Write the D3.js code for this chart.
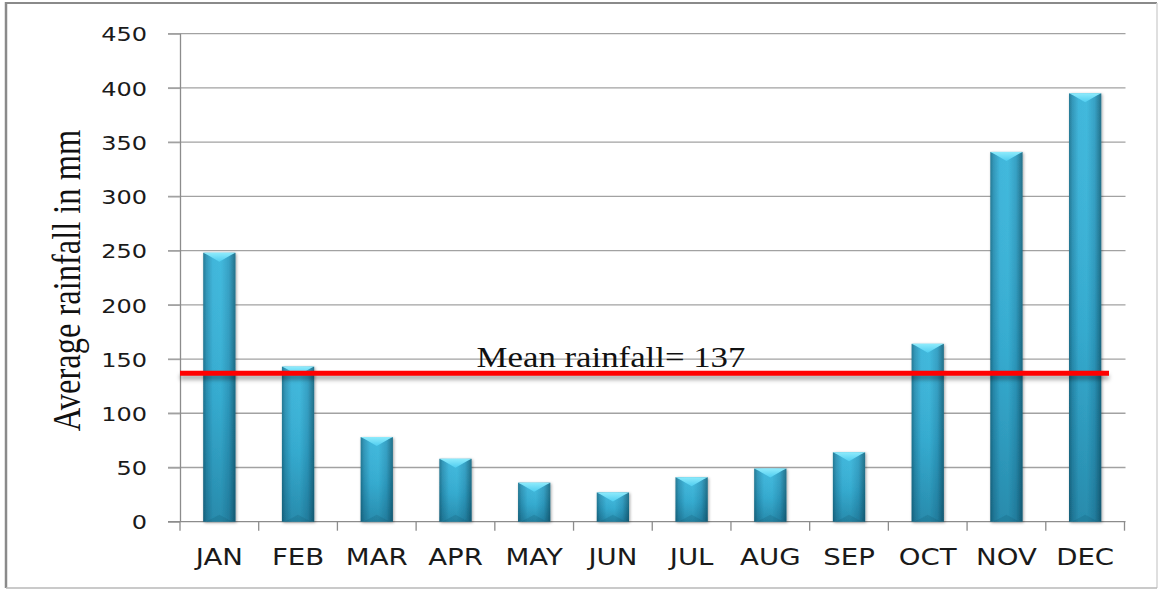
<!DOCTYPE html>
<html>
<head>
<meta charset="utf-8">
<script src="https://cdn.jsdelivr.net/npm/d3@7/dist/d3.min.js"></script>
<style>
  html, body { margin: 0; padding: 0; background: #ffffff; }
  svg { display: block; }
</style>
</head>
<body>
<svg id="chart" width="1158" height="589"></svg>
<script>
// Monthly average rainfall (mm)
const months = ["JAN", "FEB", "MAR", "APR", "MAY", "JUN", "JUL", "AUG", "SEP", "OCT", "NOV", "DEC"];
const rainfall = [248, 143, 78, 58, 36, 27, 41, 49, 64, 164, 341, 395];
const yTicks = [0, 50, 100, 150, 200, 250, 300, 350, 400, 450];
const yTitle = "Average rainfall in mm";
const meanPrefix = "Mean rainfall= ";

// Mean of the twelve months, rounded as printed on the label
const meanRainfall = Math.round(d3.mean(rainfall));

const svg = d3.select("#chart");
const plot = { left: 180, right: 1124.5, top: 33.7, bottom: 521.7 };
const textStretch = 1.2;

const x = d3.scaleBand()
  .domain(months)
  .range([plot.left, plot.right])
  .paddingInner(0.59)
  .paddingOuter(0.295);

const y = d3.scaleLinear()
  .domain([0, 450])
  .range([plot.bottom, plot.top]);

// ---- defs: gradients and shadows ----
const defs = svg.append("defs");

const body = defs.append("linearGradient").attr("id", "barBody")
  .attr("x1", "0").attr("x2", "1").attr("y1", "0").attr("y2", "0");
[["0%", "#1d7490"], ["10%", "#2b93b6"], ["30%", "#39b3d9"], ["55%", "#3ab6db"],
 ["80%", "#2f9dc2"], ["92%", "#237f9d"], ["100%", "#1a6a84"]]
  .forEach(([o, c]) => body.append("stop").attr("offset", o).attr("stop-color", c));

const shade = defs.append("linearGradient").attr("id", "barShade")
  .attr("x1", "0").attr("x2", "0").attr("y1", "0").attr("y2", "1");
shade.append("stop").attr("offset", "0%").attr("stop-color", "#ffffff").attr("stop-opacity", 0.04);
shade.append("stop").attr("offset", "55%").attr("stop-color", "#003048").attr("stop-opacity", 0.08);
shade.append("stop").attr("offset", "100%").attr("stop-color", "#002a40").attr("stop-opacity", 0.3);

const cap = defs.append("linearGradient").attr("id", "barCap")
  .attr("x1", "0").attr("x2", "0").attr("y1", "0").attr("y2", "1");
cap.append("stop").attr("offset", "0%").attr("stop-color", "#8eebfc");
cap.append("stop").attr("offset", "100%").attr("stop-color", "#4fcdf0");

const barShadow = defs.append("filter").attr("id", "barShadow")
  .attr("x", "-30%").attr("y", "-10%").attr("width", "160%").attr("height", "120%");
barShadow.append("feDropShadow").attr("dx", 1).attr("dy", 1)
  .attr("stdDeviation", 1.8).attr("flood-color", "#000").attr("flood-opacity", 0.35);

// soft blur for the mean line's shadow (user space, since a line has no height)
const blur = defs.append("filter").attr("id", "softBlur")
  .attr("filterUnits", "userSpaceOnUse")
  .attr("x", 0).attr("y", 0).attr("width", 1158).attr("height", 589);
blur.append("feGaussianBlur").attr("stdDeviation", 2.2);

// ---- chart frame ----
const frame = svg.append("g").attr("class", "frame");
frame.append("line").attr("x1", 5).attr("x2", 1157).attr("y1", 3).attr("y2", 3)
  .attr("stroke", "#8a8a8a").attr("stroke-width", 2);
frame.append("line").attr("x1", 6).attr("x2", 6).attr("y1", 2).attr("y2", 588)
  .attr("stroke", "#8a8a8a").attr("stroke-width", 2.5);
frame.append("line").attr("x1", 1157).attr("x2", 1157).attr("y1", 3).attr("y2", 588)
  .attr("stroke", "#d4d4d4").attr("stroke-width", 1.5);
frame.append("line").attr("x1", 6).attr("x2", 1157).attr("y1", 588).attr("y2", 588)
  .attr("stroke", "#b8b8b8").attr("stroke-width", 1.5);

// ---- gridlines ----
svg.append("g").attr("class", "grid")
  .selectAll("line")
  .data(yTicks.filter(d => d > 0))
  .join("line")
  .attr("x1", plot.left - 12).attr("x2", plot.right + 1)
  .attr("y1", d => y(d)).attr("y2", d => y(d))
  .attr("stroke", "#a2a2a2").attr("stroke-width", 1.3);

// ---- y axis ----
const yAxis = svg.append("g")
  .attr("transform", `translate(${plot.left},0)`)
  .call(d3.axisLeft(y).tickValues(yTicks).tickSize(12).tickSizeOuter(0));
yAxis.select(".domain").attr("stroke", "#8c8c8c").attr("stroke-width", 1.3)
  .attr("d", `M0.5,${y(450)}V${y(0)}`);
yAxis.selectAll(".tick line").attr("stroke", "#a2a2a2").attr("stroke-width", 1.3);
yAxis.selectAll(".tick text")
  .attr("x", 0).attr("dy", "0.36em")
  .attr("transform", `translate(-33,0) scale(${textStretch},1)`)
  .attr("text-anchor", "end")
  .attr("font-family", "'DejaVu Sans', sans-serif")
  .attr("font-size", 20)
  .attr("fill", "#1a1a1a");

// ---- x axis ----
const xAxisG = svg.append("g").attr("transform", `translate(0,${plot.bottom})`);
xAxisG.append("line")
  .attr("x1", plot.left - 12).attr("x2", plot.right + 1)
  .attr("y1", 0).attr("y2", 0)
  .attr("stroke", "#8c8c8c").attr("stroke-width", 1.3);
const boundaries = months.map(m => x(m) - x.step() * x.paddingInner() / 2)
  .concat([plot.right]);
boundaries[0] = plot.left;
xAxisG.selectAll("line.tick")
  .data(boundaries)
  .join("line").attr("class", "tick")
  .attr("x1", d => d).attr("x2", d => d)
  .attr("y1", 0).attr("y2", 9)
  .attr("stroke", "#8c8c8c").attr("stroke-width", 1.3);
xAxisG.selectAll("text")
  .data(months)
  .join("text")
  .attr("transform", d => `translate(${x(d) + x.bandwidth() / 2},43) scale(${textStretch},1)`)
  .attr("text-anchor", "middle")
  .attr("font-family", "'DejaVu Sans', sans-serif")
  .attr("font-size", 23)
  .attr("fill", "#1a1a1a")
  .text(d => d);

// ---- bars ----
const bars = svg.append("g").attr("class", "bars")
  .selectAll("g")
  .data(months.map((m, i) => ({ month: m, value: rainfall[i] })))
  .join("g")
  .attr("filter", "url(#barShadow)");

bars.append("rect")
  .attr("x", d => x(d.month))
  .attr("y", d => y(d.value))
  .attr("width", x.bandwidth())
  .attr("height", d => y(0) - y(d.value))
  .attr("fill", "url(#barBody)");

bars.append("rect")
  .attr("x", d => x(d.month))
  .attr("y", d => y(d.value))
  .attr("width", x.bandwidth())
  .attr("height", d => y(0) - y(d.value))
  .attr("fill", "url(#barShade)");

// bevelled top
bars.append("path")
  .attr("d", d => {
    const x0 = x(d.month), x1 = x0 + x.bandwidth(), t = y(d.value);
    const depth = Math.min(9, (y(0) - t) / 2);
    return `M${x0},${t}L${x1},${t}L${x1 - 4},${t + 2}L${(x0 + x1) / 2},${t + depth}L${x0 + 4},${t + 2}Z`;
  })
  .attr("fill", "url(#barCap)");

// bevelled bottom
bars.append("path")
  .attr("d", d => {
    const x0 = x(d.month), x1 = x0 + x.bandwidth(), b = y(0);
    const depth = Math.min(7, (b - y(d.value)) / 2);
    return `M${x0 + 3},${b}L${x1 - 3},${b}L${(x0 + x1) / 2},${b - depth}Z`;
  })
  .attr("fill", "#0e4d62").attr("fill-opacity", 0.18);

// ---- mean line ----
const meanY = y(meanRainfall);
const meanLine = svg.append("g").attr("class", "mean");
meanLine.append("line")
  .attr("x1", plot.left).attr("x2", 1109)
  .attr("y1", meanY + 4).attr("y2", meanY + 4)
  .attr("stroke", "#000").attr("stroke-opacity", 0.35).attr("stroke-width", 5)
  .attr("filter", "url(#softBlur)");
meanLine.append("line")
  .attr("x1", plot.left).attr("x2", 1109)
  .attr("y1", meanY).attr("y2", meanY)
  .attr("stroke", "#ff0000").attr("stroke-width", 5);

meanLine.append("text")
  .attr("transform", `translate(611,${meanY - 6}) scale(${textStretch},1)`)
  .attr("text-anchor", "middle")
  .attr("font-family", "'Liberation Serif', 'Times New Roman', serif")
  .attr("font-size", 29)
  .attr("fill", "#111")
  .text(meanPrefix + meanRainfall);

// ---- y axis title ----
svg.append("text")
  .attr("transform", `translate(80,280.5) scale(${textStretch},1) rotate(-90)`)
  .attr("text-anchor", "middle")
  .attr("font-family", "'Liberation Serif', 'Times New Roman', serif")
  .attr("font-size", 32.5)
  .attr("fill", "#111")
  .text(yTitle);
</script>
</body>
</html>
